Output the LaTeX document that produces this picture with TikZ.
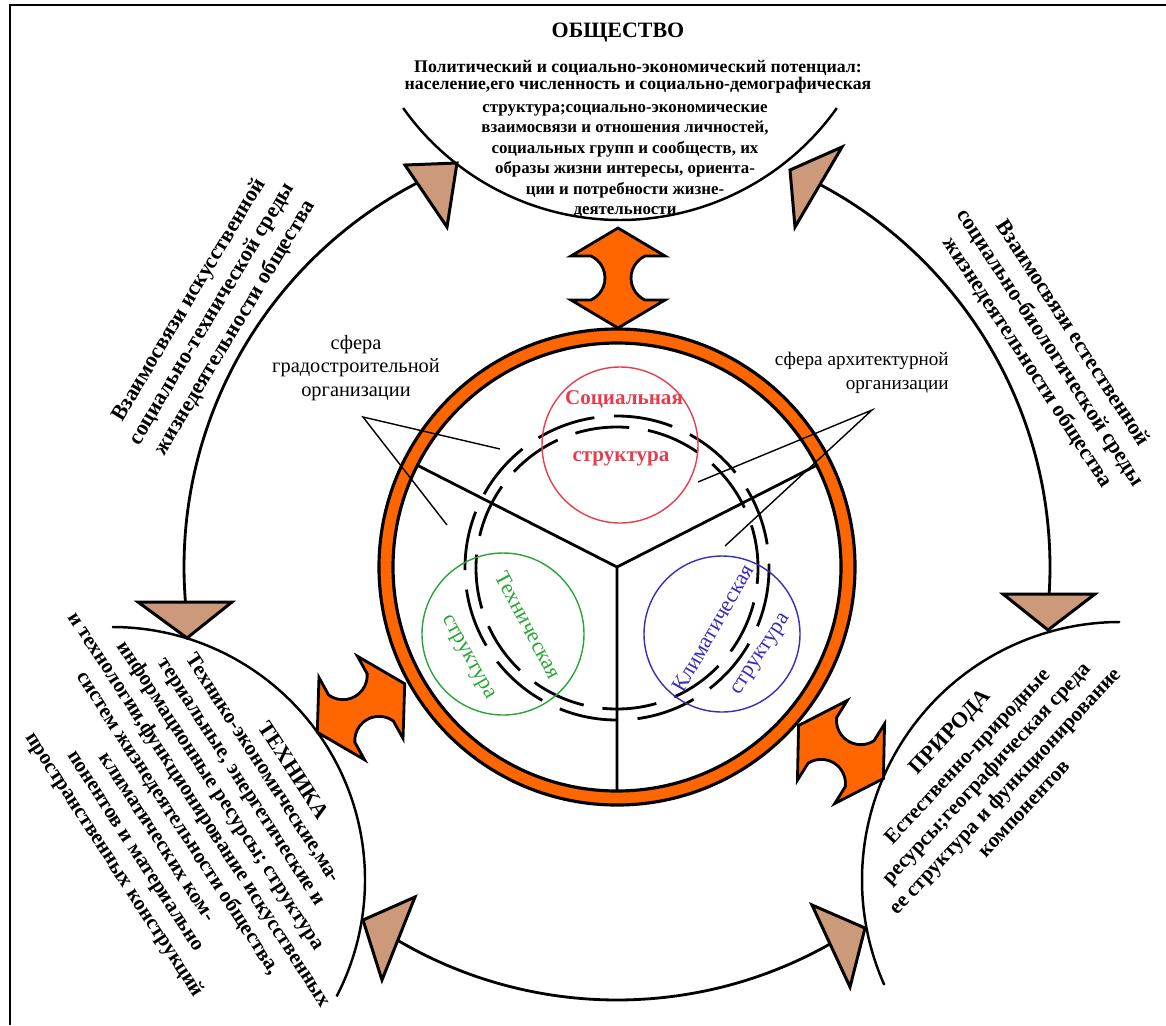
\documentclass[tikz,border=0pt]{standalone}
\usepackage{fontspec}
\setmainfont{Liberation Serif}
\usetikzlibrary{calc}
\definecolor{orng}{RGB}{255,102,0}
\definecolor{tanfill}{RGB}{204,153,122}
\definecolor{socred}{RGB}{228,62,78}
\definecolor{tecgreen}{RGB}{40,165,55}
\definecolor{climblue}{RGB}{55,45,185}
\newcommand\fsz[2]{\fontsize{#1}{#2}\selectfont}
\tikzset{
  frameline/.style={line width=1.7pt},
  objarc/.style={line width=1.4pt},
  bigarc/.style={line width=1.6pt},
  tri/.style={fill=tanfill,draw=black,line width=1.7pt,line join=miter},
  ringstyle/.style={line width=1.8pt,fill=orng,even odd rule},
  spoke/.style={line width=1.6pt},
  dashout/.style={line width=1.6pt,dash pattern=on 34pt off 11.1pt},
  dashin/.style={line width=1.6pt,dash pattern=on 31pt off 10.8pt,dash phase=22pt},
  pointer/.style={line width=0.8pt},
  arrfill/.style={fill=orng,draw=black,line width=1.6pt,line join=miter},
  txt/.style={inner sep=0pt,align=center},
  dblarr/.pic={\path[arrfill] (50,0) -- (22,47) -- (22,27)
      arc[start angle=-25.1,end angle=-154.9,radius=24.3] -- (-22,47) -- (-50,0)
      -- (-22,-47) -- (-22,-27) arc[start angle=154.9,end angle=25.1,radius=24.3]
      -- (22,-47) -- cycle;}
}
\begin{document}
\begin{tikzpicture}[x=0.02cm,y=-0.02cm]
\useasboundingbox (0,0) rectangle (1166,1025);
% frame
\draw[frameline] (10,1025) -- (10,5) -- (1166,5);

% centres
\coordinate (ctr) at (617,567);
\coordinate (obsC) at (620,-46);
\coordinate (tecC) at (112,880);
\coordinate (priC) at (1120,880);

% outer object arcs
\draw[objarc] ($(obsC)+(35.4:266)$) arc[start angle=35.4,end angle=144.6,radius=266];
\draw[objarc] ($(tecC)+(-90:253)$) arc[start angle=-90,end angle=27.4,radius=253];
\draw[objarc] ($(priC)+(156:258)$) arc[start angle=156,end angle=270,radius=258];

% big connecting arcs
\coordinate (tlB) at ($(ctr)+(242.8:433)$);
\coordinate (ltB) at ($(ctr)+(175.4:433)$);
\coordinate (trB) at ($(ctr)+(-62.1:433)$);
\coordinate (rtB) at ($(ctr)+(3.6:433)$);
\coordinate (lbB) at ($(ctr)+(120.5:433)$);
\coordinate (rbB) at ($(ctr)+(60.5:433)$);
\draw[bigarc] (tlB) arc[start angle=242.8,end angle=175.4,radius=433];
\draw[bigarc] (trB) arc[start angle=-62.1,end angle=3.6,radius=433];
\draw[bigarc] (lbB) arc[start angle=120.5,end angle=60.5,radius=433];

% arrowhead triangles
\draw[tri] (405,165) -- (457,163) -- (447,227) -- cycle;
\draw[tri] (842,147) -- (790,170) -- (795,227) -- cycle;
\draw[tri] (138,602) -- (232,602) -- (187,638) -- cycle;
\draw[tri] (1003,594) -- (1095,594) -- (1048,630) -- cycle;
\draw[tri] (363,920) -- (415,897) -- (382,980) -- cycle;
\draw[tri] (812,905) -- (865,928) -- (850,987) -- cycle;

% orange ring
\draw[ringstyle] (ctr) circle[radius=238] (ctr) circle[radius=224];

% spokes
\draw[spoke] ($(ctr)+(-153:224)$) -- (ctr) -- ($(ctr)+(-27:224)$) (ctr) -- ($(ctr)+(90:224)$);

% dashed double circle
\coordinate (dc) at (617,568);
\draw[dashout] (dc) circle[radius=152];
\draw[dashin] (dc) circle[radius=141];

% coloured structure circles
\draw[socred,line width=0.8pt] (620,445) circle[radius=78];
\draw[tecgreen,line width=0.8pt] (503,634) circle[radius=81];
\draw[climblue,line width=0.8pt] (722,634) circle[radius=78];
\node[txt,text=socred,font=\bfseries\fsz{12pt}{14pt}] (soc1) at (624,399) {Социальная};
\node[txt,text=socred,font=\bfseries\fsz{12pt}{14pt}] (soc2) at (621,459) {структура};
\node[txt,text=tecgreen,font=\fsz{12.5pt}{14pt},rotate=-62] (tec1) at (528,625) {Техническая};
\node[txt,text=tecgreen,font=\fsz{12.5pt}{14pt},rotate=-61] (tec2) at (467,658) {структура};
\node[txt,text=climblue,font=\fsz{12.5pt}{14pt},rotate=60] (cli1) at (713,628) {Климатическая};
\node[txt,text=climblue,font=\fsz{12.5pt}{14pt},rotate=57] (cli2) at (762,655) {структура};

% pointer lines
\coordinate (pl) at (363,417);
\coordinate (pl1) at (500,449);
\coordinate (pl2) at (447,525);
\coordinate (pr) at (872,410);
\coordinate (pr1) at (698,482);
\coordinate (pr2) at (725,546);
\draw[pointer] (pl1) -- (pl) -- (pl2);
\draw[pointer] (pr1) -- (pr) -- (pr2);

% orange double arrows
\pic[rotate=90] (arrTop) at (618,278) {dblarr};
\pic[rotate=29] (arrLeft) at (361,708) {dblarr};
\pic[rotate=-32] (arrRight) at (841,752) {dblarr};

% labels
\node[txt,font=\fsz{11.6pt}{13.6pt}] (gradLbl) at (356,368) {сфера\\градостроительной\\организации};
\node[txt,align=right,anchor=east,font=\fsz{10.9pt}{13.9pt}] (archLbl) at (949,373) {сфера архитектурной\\организации};

% OBSHCHESTVO
\node[txt,font=\bfseries\fsz{12.5pt}{14pt}] (obsT) at (618,33) {ОБЩЕСТВО};
\node[txt,font=\bfseries\fsz{10.1pt}{8.6pt}] (obsA) at (638,77)
  {Политический и социально-экономический потенциал:\\население,его численность и социально-демографическая};
\node[txt,font=\bfseries\fsz{9.6pt}{11.6pt}] (obsB) at (625,161)
  {структура;социально-экономические\\взаимосвязи и отношения личностей,\\социальных групп и сообществ, их\\образы жизни интересы, ориента-\\ции и потребности жизне-\\деятельности};

% side texts
\node[txt,font=\bfseries\fsz{12.5pt}{15.3pt},rotate=59] (leftSide) at (212,314)
  {Взаимосвязи искусственной\\социально-технической среды\\жизнедеятельности общества};
\node[txt,font=\bfseries\fsz{12.5pt}{15.3pt},rotate=-57] (rightSide) at (1050,348)
  {Взаимосвязи естественной\\социально-биологической среды\\жизнедеятельности общества};

% TEKHNIKA
\node[txt,font=\bfseries\fsz{12.5pt}{14pt},rotate=-57] (tecT) at (294,770) {ТЕХНИКА};
\node[txt,font=\bfseries\fsz{12pt}{14.4pt},rotate=-57] (tecB) at (188,817)
  {Технико-экономические,ма-\\териальные, энергетические и\\информационные ресурсы; структура\\и технологии,функционирование искусственных\\систем жизнедеятельности общества,\\климатических ком-\\понентов и материально\\пространственных конструкций};

% PRIRODA
\node[txt,font=\bfseries\fsz{12.5pt}{14pt},rotate=47] (priT) at (951,733) {ПРИРОДА};
\node[txt,font=\bfseries\fsz{12pt}{14.7pt},rotate=47] (priB) at (995,782)
  {Естественно-природные\\ресурсы;географическая среда\\ее структура и функционирование\\компонентов};
\end{tikzpicture}
\end{document}
